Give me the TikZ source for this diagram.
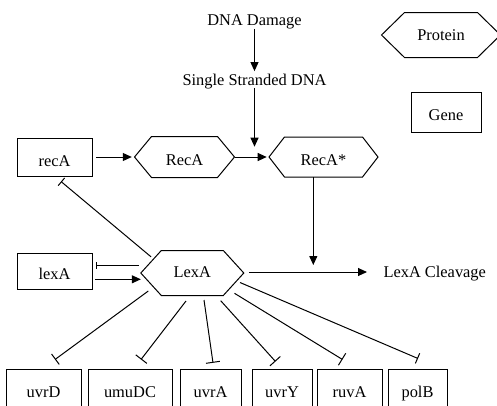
\documentclass[tikz,border=0pt]{standalone}
\usepackage{fontspec}
\setmainfont{Liberation Serif}
\usetikzlibrary{arrows.meta,calc}
\newcommand\hexagon[2]{%
  \coordinate (#1-w) at ([xshift=-#2pt]#1.west);
  \coordinate (#1-e) at ([xshift=#2pt]#1.east);
  \draw (#1.north west) -- (#1.north east) -- (#1-e) -- (#1.south east)
        -- (#1.south west) -- (#1-w) -- cycle;}
\begin{document}
\begin{tikzpicture}[x=1pt,y=-1pt,line width=1pt,
  base/.style={font=\fontsize{16.4pt}{19pt}\selectfont, inner sep=0pt,
               text depth=0pt, text height=10.8pt},
  genebox/.style={base, draw, rectangle},
  protbox/.style={base, rectangle},
  lbl/.style={base},
  arr/.style={-{Triangle[length=9pt,width=8pt]}},
  inh/.style={-{Bar[width=#1]}}]
\useasboundingbox (0,0) rectangle (497,405);
\clip (0,0) rectangle (497,405);

% legend
\node[protbox, minimum width=72pt, minimum height=44pt] (prot) at (441,35) {Protein};
\hexagon{prot}{23}
\node[genebox, minimum width=70pt, minimum height=40pt, text height=16.8pt] (gene) at (446,112) {Gene};

% top labels
\node[lbl] (dna) at (254.5,20) {DNA Damage};
\node[lbl] (ssdna) at (254.5,80) {Single Stranded DNA};

% row of recA
\node[genebox, minimum width=75pt, minimum height=38pt, text height=18.8pt] (reca) at (54.5,157) {recA};
\node[protbox, minimum width=65pt, minimum height=40pt, text height=17.8pt] (RecA) at (184.5,157) {RecA};
\hexagon{RecA}{17}
\node[protbox, minimum width=77pt, minimum height=39pt, text height=17.8pt] (RecAs) at (323.5,157) {RecA*};
\hexagon{RecAs}{15.5}

% LexA row
\node[genebox, minimum width=75pt, minimum height=36pt, text height=16.4pt] (lexa) at (54.5,271) {lexA};
\node[protbox, minimum width=61pt, minimum height=44pt, text height=8.8pt] (LexA) at (192.3,273) {LexA};
\hexagon{LexA}{20.5}
\node[lbl, anchor=west] (cleav) at (383,272) {LexA Cleavage};

% bottom genes
\foreach \nm/\cx/\w/\t in {uvrD/43.5/75/uvrD, umuDC/130/84/umuDC, uvrA/210.5/61/uvrA,
                          uvrY/282/60/uvrY, ruvA/349.5/65/ruvA, polB/417.5/59/polB}{
  \node[genebox, minimum width=\w pt, minimum height=43pt, text height=13.8pt] (\nm) at (\cx,390.5) {\t};
}

% coordinates for junctions
\coordinate (j1) at (254.5,157);
\coordinate (j2) at (313.3,272);

% activation arrows
\draw[arr, shorten <=3pt, shorten >=3pt] (dna.south) -- (ssdna.north);
\draw[arr, shorten <=2pt, shorten >=10.3pt] (ssdna.south) -- (j1);
\draw[arr, shorten <=3.5pt, shorten >=2.7pt] (reca.east) -- (RecA-w);
\draw[arr, shorten >=2.3pt] (RecA-e) -- (RecAs-w);
\draw[arr, shorten >=7pt] (RecAs.south -| j2) -- (j2);
\draw[arr, shorten <=5pt, shorten >=16pt] (LexA-e |- cleav.west) -- (cleav.west);
\coordinate (la1) at ($(lexa.east)+(0,8.3)$);
\draw[arr, shorten <=2.3pt] (la1) -- (la1 -| LexA-w);

% repression
\coordinate (la2) at ($(lexa.east)+(0,-5.7)$);
\draw[inh=7pt, shorten <=2pt, shorten >=3pt] (la2 -| LexA-w) -- (la2);
\draw[inh=10pt] ($(LexA.north west)+(-10.3,6.3)$) -- ($(reca.south)+(6.5,5)$);

\draw[inh=13pt] ($(LexA.center)+(-44,18)$)     -- ($(uvrD.north)+(11.5,-9)$);
\draw[inh=14pt] ($(LexA.center)+(-6.3,28)$)    -- ($(umuDC.north)+(11,-9)$);
\draw[inh=14pt] ($(LexA.center)+(11.7,27)$)    -- ($(uvrA.north)+(2.5,-5.7)$);
\draw[inh=14pt] ($(LexA.center)+(28.4,27.7)$)  -- ($(uvrY.north)+(-6.5,-7)$);
\draw[inh=14pt] ($(LexA.center)+(42.2,20.3)$)  -- ($(ruvA.north)+(-7,-9)$);
\draw[inh=11pt] ($(LexA.center)+(47.7,9.5)$)   -- ($(polB.north)+(0.5,-10)$);
\end{tikzpicture}
\end{document}
